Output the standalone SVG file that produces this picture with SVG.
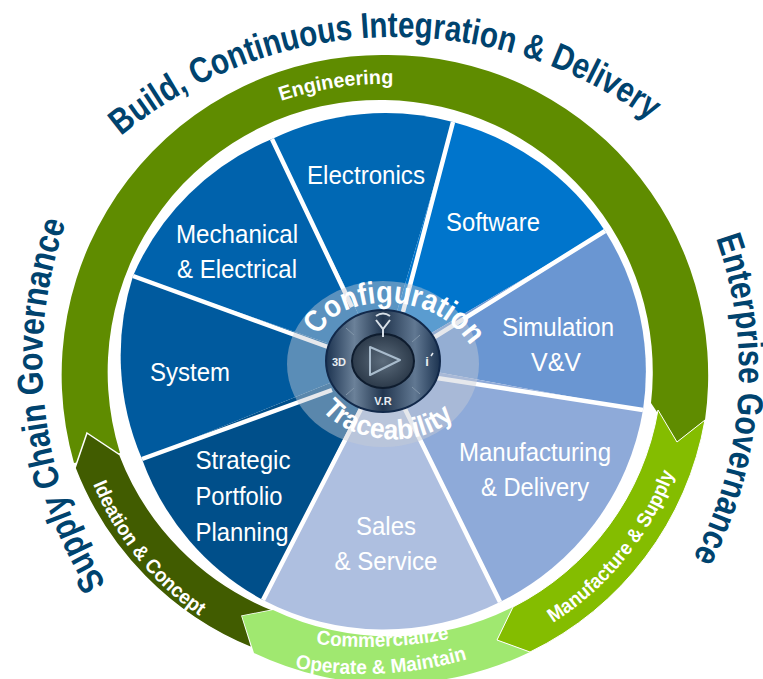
<svg xmlns="http://www.w3.org/2000/svg" xmlns:xlink="http://www.w3.org/1999/xlink" width="763" height="679" viewBox="0 0 763 679">
<style>
text{font-family:"Liberation Sans",Arial,sans-serif}
.w{fill:#fff;font-size:26px;text-anchor:middle}
.t{fill:#00436e;font-size:36px;font-weight:700}
.b{fill:#fff;font-size:20px;font-weight:700}
.h{fill:#fff;font-size:31px;font-weight:700}
.d{fill:#e8edf2;font-size:11px;font-weight:700;text-anchor:middle}
.s{stroke:#fff;stroke-width:4.5;fill:none}
</style>
<defs>
<linearGradient id="dial" x1="0" x2="1" y1="0" y2="0"><stop offset="0" stop-color="#1c3350"/><stop offset=".25" stop-color="#6b8199"/><stop offset=".5" stop-color="#22364f"/><stop offset=".78" stop-color="#617892"/><stop offset="1" stop-color="#1c3350"/></linearGradient>
<radialGradient id="core"><stop offset="0" stop-color="#5c6c7c"/><stop offset="1" stop-color="#2c3a4a"/></radialGradient>
<path id="pT" d="M121 136A430 430 0 0 1 660 128"/>
<path id="pL" d="M106 584A420 420 0 0 1 69 214"/>
<path id="pR" d="M716 238A400 400 0 0 1 692 560"/>
<path id="pE" d="M281 101A330 330 0 0 1 396 84"/>
<path id="pI" d="M93 484A300 300 0 0 0 207 621"/>
<path id="pM" d="M553 623A300 300 0 0 0 676 468"/>
<path id="pC" d="M316 644Q385 652 453 638"/>
<path id="pO" d="M295 668Q385 684 471 658"/>
<path id="pCfg" d="M319 336C335 295 430 285 470 345"/>
<path id="pTr" d="M322 410C345 440 420 455 456 415"/>
</defs>

<g id="ring-engineering">
<path fill="#5f8c00" d="M74 463A320 320 0 0 1 388 55A320 320 0 0 1 705 420L677 442L651 403A272 272 0 0 0 385 100A272 272 0 0 0 120 453Z"/>
</g>
<g id="ring-ideation">
<path fill="#415c00" stroke="#fff" stroke-width="1.5" d="M87 433L120 455A272 272 0 0 0 273 610L242 616L252 648A319 319 0 0 1 75 468Z"/>
</g>
<g id="ring-commercialize">
<path fill="#a0e870" d="M242 616L273 610A272 272 0 0 0 513 607L497 640L530 652A319 319 0 0 1 254 653Z"/>
</g>
<g id="ring-manufacture">
<path fill="#84bd00" stroke="#fff" stroke-width="1" d="M658 410L677 442L705 420A319 319 0 0 1 530 652L497 640L513 607A272 272 0 0 0 658 410Z"/>
</g>

<g id="node-electronics"><path fill="#0068b4" d="M272 139A260 260 0 0 1 453 122L382 362Z"/><text class="w" x="366" y="184" textLength="118" lengthAdjust="spacingAndGlyphs">Electronics</text></g>
<g id="node-software"><path fill="#0075cc" d="M453 122A260 260 0 0 1 605 231L382 362Z"/><text class="w" x="493" y="231" textLength="94" lengthAdjust="spacingAndGlyphs">Software</text></g>
<g id="node-simulation"><path fill="#6a96d2" d="M605 231A262 262 0 0 1 643 410L382 362Z"/><text class="w" x="558" y="336" textLength="112" lengthAdjust="spacingAndGlyphs">Simulation</text><text class="w" x="556" y="371" textLength="50" lengthAdjust="spacingAndGlyphs">V&amp;V</text></g>
<g id="node-manufacturing"><path fill="#8eaad9" d="M643 410A262 262 0 0 1 500 602L382 362Z"/><text class="w" x="535" y="461" textLength="152" lengthAdjust="spacingAndGlyphs">Manufacturing</text><text class="w" x="535" y="496" textLength="108" lengthAdjust="spacingAndGlyphs">&amp; Delivery</text></g>
<g id="node-sales"><path fill="#aebfe0" d="M500 602A260 260 0 0 1 263 600L382 362Z"/><text class="w" x="386" y="535" textLength="60" lengthAdjust="spacingAndGlyphs">Sales</text><text class="w" x="386" y="570" textLength="103" lengthAdjust="spacingAndGlyphs">&amp; Service</text></g>
<g id="node-strategic"><path fill="#004f8a" d="M263 600A260 260 0 0 1 142 459L382 362Z"/><text class="w" x="243" y="469" textLength="95" lengthAdjust="spacingAndGlyphs">Strategic</text><text class="w" x="239" y="505" textLength="87" lengthAdjust="spacingAndGlyphs">Portfolio</text><text class="w" x="242" y="541" textLength="93" lengthAdjust="spacingAndGlyphs">Planning</text></g>
<g id="node-system"><path fill="#005a9e" d="M142 459A262 262 0 0 1 133 276L382 362Z"/><text class="w" x="190" y="381" textLength="80" lengthAdjust="spacingAndGlyphs">System</text></g>
<g id="node-mechanical"><path fill="#0062ac" d="M133 276A260 260 0 0 1 272 139L382 362Z"/><text class="w" x="237" y="243" textLength="122" lengthAdjust="spacingAndGlyphs">Mechanical</text><text class="w" x="237" y="278" textLength="120" lengthAdjust="spacingAndGlyphs">&amp; Electrical</text></g>

<g id="connectors">
<path class="s" d="M272 139L352 307M453 122L403 312M605 231L433 338M643 410L437 378M500 602L403 405M263 600L362 407M142 459L332 390M133 276L328 347"/>
</g>

<g id="hub">
<ellipse cx="383" cy="364" rx="96" ry="83" fill="#c8ccd4" fill-opacity=".45"/>
<ellipse cx="383" cy="361" rx="57" ry="51" fill="url(#dial)" stroke="#12294a" stroke-width="2"/>
<ellipse cx="383" cy="361" rx="31" ry="27" fill="url(#core)" stroke="#0e1c2e" stroke-width="2"/>
<path d="M370 347L400 360L370 375Z" fill="none" stroke="#a9bccd" stroke-width="2" stroke-linejoin="round"/>
<path d="M376 320L383 329L390 320M383 329V337M376 316Q383 311 390 316" fill="none" stroke="#d7dfe7" stroke-width="2"/>
<path d="M346 328L354 335M420 335L412 342M346 395L354 388M420 394L412 387" stroke="#8296aa" stroke-width="1" fill="none"/>
<text class="d" x="339" y="366">3D</text>
<text class="d" x="383" y="405">V.R</text>
<text class="d" x="427" y="366" style="font-size:13px">i</text>
<path d="M431 356L433 353" stroke="#e8edf2" stroke-width="1.5"/>
<text class="h"><textPath href="#pCfg" xlink:href="#pCfg" textLength="178" lengthAdjust="spacingAndGlyphs">Configuration</textPath></text>
<text class="h" style="font-size:28px"><textPath href="#pTr" xlink:href="#pTr" textLength="146" lengthAdjust="spacingAndGlyphs">Traceability</textPath></text>
</g>

<g id="labels">
<text class="t"><textPath href="#pT" xlink:href="#pT" textLength="570" lengthAdjust="spacingAndGlyphs">Build, Continuous Integration &amp; Delivery</textPath></text>
<text class="t"><textPath href="#pL" xlink:href="#pL" textLength="376" lengthAdjust="spacingAndGlyphs">Supply Chain Governance</textPath></text>
<text class="t"><textPath href="#pR" xlink:href="#pR" textLength="330" lengthAdjust="spacingAndGlyphs">Enterprise Governance</textPath></text>
<text class="b"><textPath href="#pE" xlink:href="#pE" textLength="114" lengthAdjust="spacingAndGlyphs">Engineering</textPath></text>
<text class="b"><textPath href="#pI" xlink:href="#pI" textLength="172" lengthAdjust="spacingAndGlyphs">Ideation &amp; Concept</textPath></text>
<text class="b"><textPath href="#pM" xlink:href="#pM" textLength="196" lengthAdjust="spacingAndGlyphs">Manufacture &amp; Supply</textPath></text>
<text class="b"><textPath href="#pC" xlink:href="#pC" textLength="134" lengthAdjust="spacingAndGlyphs">Commercialize</textPath></text>
<text class="b"><textPath href="#pO" xlink:href="#pO" textLength="174" lengthAdjust="spacingAndGlyphs">Operate &amp; Maintain</textPath></text>
</g>
</svg>
